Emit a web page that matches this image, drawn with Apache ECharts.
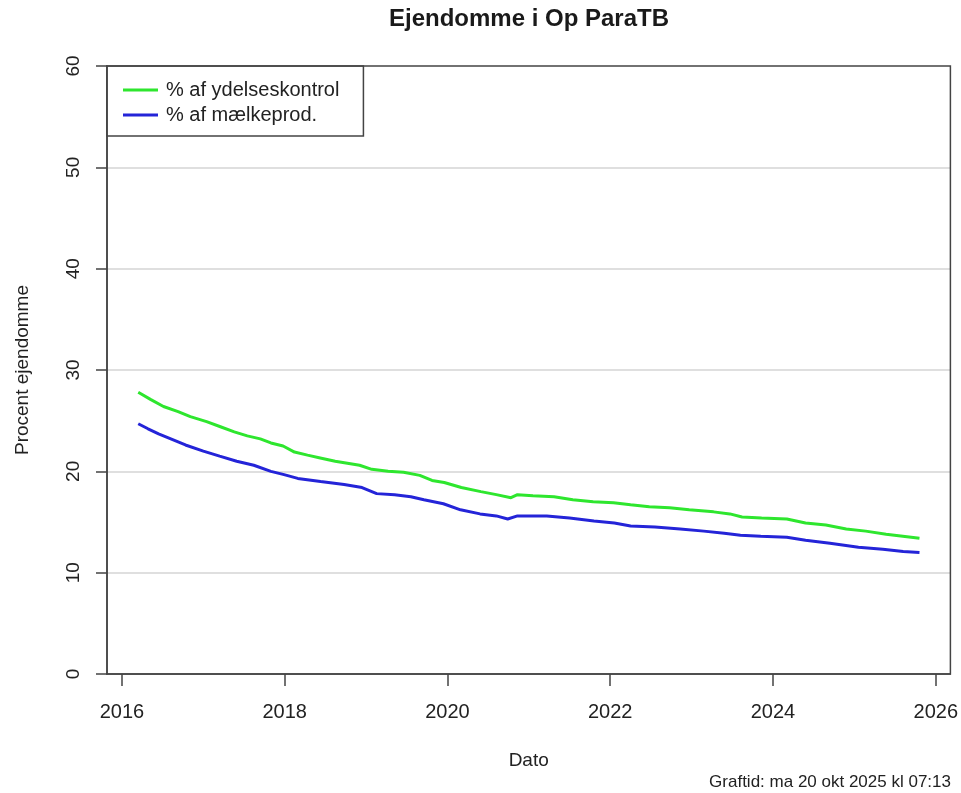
<!DOCTYPE html>
<html>
<head>
<meta charset="utf-8">
<script src="https://cdn.jsdelivr.net/npm/echarts@6/dist/echarts.min.js"></script>
<style>
html,body{margin:0;padding:0;background:#fff;}
#c{width:961px;height:793px;}
</style>
</head>
<body>
<div id="c"></div>
<script>
// Decimal-year dates and percentages
var ydelsesYears = [2016.20,2016.35,2016.51,2016.69,2016.84,2017.04,2017.21,2017.38,2017.54,2017.70,2017.83,2017.98,2018.12,2018.28,2018.45,2018.62,2018.77,2018.92,2019.07,2019.27,2019.46,2019.66,2019.81,2019.96,2020.17,2020.41,2020.60,2020.78,2020.86,2021.05,2021.31,2021.54,2021.79,2022.04,2022.25,2022.48,2022.73,2022.97,2023.27,2023.47,2023.62,2023.86,2024.17,2024.40,2024.65,2024.90,2025.14,2025.39,2025.80];
var ydelsesValues = [27.8,27.1,26.4,25.9,25.4,24.9,24.4,23.9,23.5,23.2,22.8,22.5,21.9,21.6,21.3,21.0,20.8,20.6,20.2,20.0,19.9,19.6,19.1,18.9,18.4,18.0,17.7,17.4,17.7,17.6,17.5,17.2,17.0,16.9,16.7,16.5,16.4,16.2,16.0,15.8,15.5,15.4,15.3,14.9,14.7,14.3,14.1,13.8,13.4];

var maelkYears = [2016.20,2016.32,2016.45,2016.60,2016.78,2017.00,2017.20,2017.41,2017.62,2017.83,2017.98,2018.16,2018.44,2018.73,2018.95,2019.13,2019.35,2019.55,2019.71,2019.95,2020.16,2020.40,2020.60,2020.74,2020.86,2021.22,2021.50,2021.80,2022.05,2022.25,2022.55,2022.86,2023.15,2023.40,2023.60,2023.85,2024.17,2024.40,2024.70,2025.05,2025.35,2025.60,2025.80];
var maelkValues = [24.7,24.2,23.7,23.2,22.6,22.0,21.5,21.0,20.6,20.0,19.7,19.3,19.0,18.7,18.4,17.8,17.7,17.5,17.2,16.8,16.2,15.8,15.6,15.3,15.6,15.6,15.4,15.1,14.9,14.6,14.5,14.3,14.1,13.9,13.7,13.6,13.5,13.2,12.9,12.5,12.3,12.1,12.0];

var xTicks = [2016,2018,2020,2022,2024,2026];
var seriesNames = ['% af ydelseskontrol','% af mælkeprod.'];
var titleText = 'Ejendomme i Op ParaTB';
var xName = 'Dato';
var yName = 'Procent ejendomme';
var footerText = 'Graftid: ma 20 okt 2025 kl 07:13';

function pairs(xs, ys){ return xs.map(function(x,i){ return [x, ys[i]]; }); }

var FONT = '"Liberation Sans", Arial, sans-serif';
var chart = echarts.init(document.getElementById('c'), null, {renderer:'canvas'});
chart.setOption({
  animation:false,
  backgroundColor:'#ffffff',
  textStyle:{fontFamily:FONT},
  title:{
    text:titleText, left:524, top:2, textAlign:'center',
    textStyle:{fontFamily:FONT, fontSize:24, fontWeight:'bold', color:'#1a1a1a'}
  },
  grid:{left:107, right:10, top:66, bottom:119, show:true, borderColor:'#444', borderWidth:1.5, backgroundColor:'transparent', z:5},
  legend:{
    left:107, top:66, orient:'vertical',
    data:seriesNames,
    icon:'rect', itemWidth:35, itemHeight:3, itemGap:5,
    padding:[14,24,11,16],
    borderColor:'#444', borderWidth:1.5, backgroundColor:'#fff',
    textStyle:{fontFamily:FONT, fontSize:20, color:'#222', padding:[0,0,0,3]}
  },
  xAxis:{
    type:'value', min:2015.816, max:2026.18,
    name:xName, nameLocation:'middle', nameGap:77,
    nameTextStyle:{fontFamily:FONT, fontSize:19, color:'#222'},
    axisLine:{show:true, onZero:false, lineStyle:{color:'#444', width:1.5}},
    axisTick:{show:true, length:12, lineStyle:{color:'#444', width:1.5}, customValues:xTicks},
    axisLabel:{fontFamily:FONT, fontSize:20, color:'#222', margin:28, customValues:xTicks, formatter:function(v){return String(v);}},
    splitLine:{show:false}
  },
  yAxis:{
    type:'value', min:0, max:60, interval:10,
    name:yName, nameLocation:'middle', nameGap:75,
    nameTextStyle:{fontFamily:FONT, fontSize:19, color:'#222'},
    axisLine:{show:true, lineStyle:{color:'#444', width:1.5}},
    axisTick:{show:true, length:11, lineStyle:{color:'#444', width:1.5}},
    axisLabel:{fontFamily:FONT, fontSize:19, color:'#222', rotate:90, margin:24},
    splitLine:{show:true, showMinLine:false, showMaxLine:false, lineStyle:{color:'#d4d4d4', width:1.5}}
  },
  graphic:[{
    type:'text', right:10, top:774,
    style:{text:footerText, fontFamily:FONT, fontSize:17, fill:'#222'}
  }],
  series:[
    {name:seriesNames[0], type:'line', showSymbol:false, symbol:'none', data:pairs(ydelsesYears, ydelsesValues), lineStyle:{color:'#2ee62e', width:3}, itemStyle:{color:'#2ee62e'}, z:3},
    {name:seriesNames[1], type:'line', showSymbol:false, symbol:'none', data:pairs(maelkYears, maelkValues), lineStyle:{color:'#2424d8', width:3}, itemStyle:{color:'#2424d8'}, z:3}
  ]
});
</script>
</body>
</html>
